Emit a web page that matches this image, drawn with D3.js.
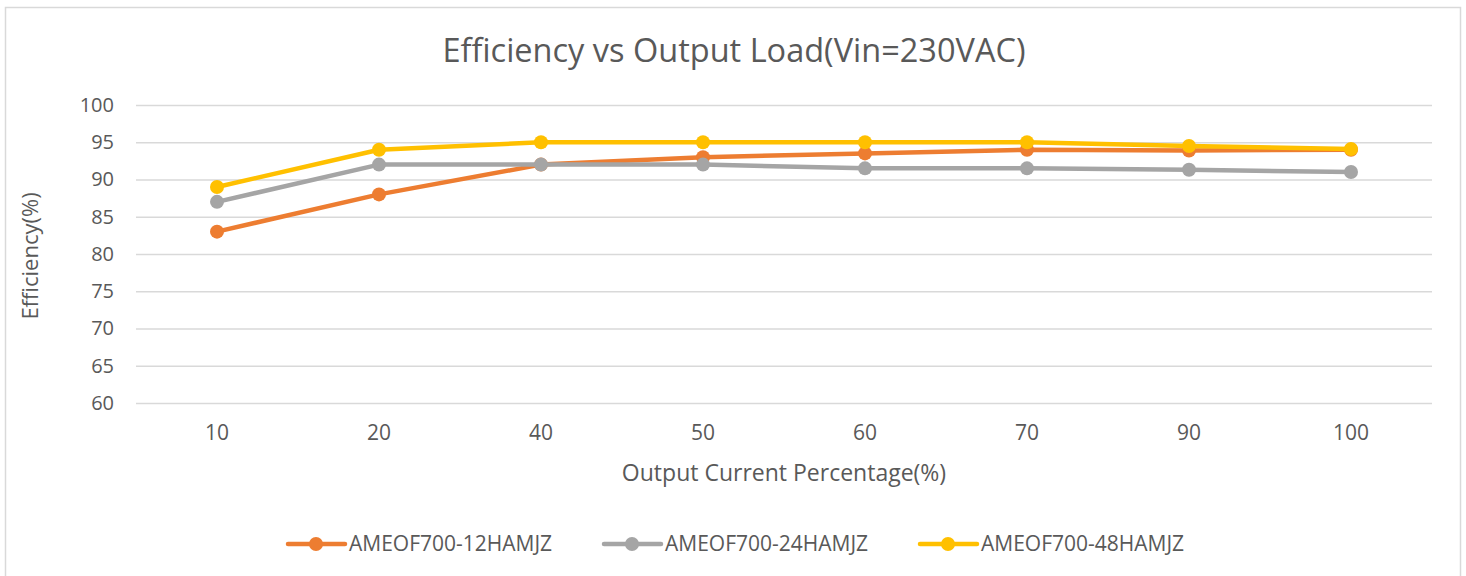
<!DOCTYPE html>
<html>
<head>
<meta charset="utf-8">
<script src="https://cdn.jsdelivr.net/npm/d3@7"></script>
<style>
  body { margin: 0; background: #fff; }
  text { font-family: "Open Sans", "DejaVu Sans", sans-serif; fill: #595959; }
</style>
</head>
<body>
<div id="chart"></div>
<script>
// data
var loads = ["10", "20", "40", "50", "60", "70", "90", "100"];
var seriesNames = ["AMEOF700-12HAMJZ", "AMEOF700-24HAMJZ", "AMEOF700-48HAMJZ"];
var eff12 = [83, 88, 92, 93, 93.5, 94, 93.9, 94];
var eff24 = [87, 92, 92, 92, 91.5, 91.5, 91.3, 91];
var eff48 = [89, 94, 95, 95, 95, 95, 94.5, 94.1];
var yTicks = [60, 65, 70, 75, 80, 85, 90, 95, 100];
var colors = ["#ed7d31", "#a5a5a5", "#ffc000"];

var W = 1466, H = 576;
var margin = {top: 105, right: 34, bottom: 173, left: 136};
var width = W - margin.left - margin.right,
    height = H - margin.top - margin.bottom;

var svg = d3.select("#chart").append("svg")
    .attr("width", W)
    .attr("height", H);

// chart border
svg.append("rect")
    .attr("x", 5.5).attr("y", 7.5)
    .attr("width", 1455).attr("height", 580)
    .attr("fill", "#fff")
    .attr("stroke", "#d9d9d9")
    .attr("stroke-width", 1.5);

var g = svg.append("g")
    .attr("transform", "translate(" + margin.left + "," + margin.top + ")");

// title
svg.append("text")
    .attr("x", 734)
    .attr("y", 62)
    .attr("text-anchor", "middle")
    .style("font-size", "32.5px")
    .text("Efficiency vs Output Load(Vin=230VAC)");

var x = d3.scaleBand()
    .domain(loads)
    .range([0, width]);

var y = d3.scaleLinear()
    .domain([60, 100])
    .range([height, 0]);

// gridlines
g.append("g")
    .call(d3.axisLeft(y).tickValues(yTicks).tickSize(-width).tickFormat(""))
    .call(function(a) { a.select(".domain").remove(); })
    .selectAll("line")
    .attr("stroke", "#d9d9d9")
    .attr("stroke-width", 1.5);

// y axis labels
g.append("g")
    .call(d3.axisLeft(y).tickValues(yTicks).tickSize(0).tickPadding(22))
    .call(function(a) { a.select(".domain").remove(); })
    .selectAll("text")
    .style("font-size", "20px");

// x axis labels
g.append("g")
    .attr("transform", "translate(0," + height + ")")
    .call(d3.axisBottom(x).tickSize(0).tickPadding(22))
    .call(function(a) { a.select(".domain").remove(); })
    .selectAll("text")
    .style("font-size", "21px");

// axis titles
svg.append("text")
    .attr("x", margin.left + width / 2)
    .attr("y", 481)
    .attr("text-anchor", "middle")
    .style("font-size", "23px")
    .text("Output Current Percentage(%)");

svg.append("text")
    .attr("transform", "translate(38," + (margin.top + height / 2 + 2) + ") rotate(-90)")
    .attr("text-anchor", "middle")
    .style("font-size", "22px")
    .text("Efficiency(%)");

var series = [eff12, eff24, eff48];

var line = d3.line()
    .x(function(d, i) { return x(loads[i]) + x.bandwidth() / 2; })
    .y(function(d) { return y(d); });

series.forEach(function(s, k) {
    g.append("path")
        .datum(s)
        .attr("fill", "none")
        .attr("stroke", colors[k])
        .attr("stroke-width", 4.5)
        .attr("stroke-linejoin", "round")
        .attr("d", line);
    g.selectAll(".dot" + k)
        .data(s)
        .enter()
        .append("circle")
        .attr("cx", function(d, i) { return x(loads[i]) + x.bandwidth() / 2; })
        .attr("cy", function(d) { return y(d); })
        .attr("r", 7)
        .attr("fill", colors[k]);
});

// legend
var legendX = [288, 604, 920];
var legend = svg.append("g");
seriesNames.forEach(function(name, k) {
    var lg = legend.append("g").attr("transform", "translate(" + legendX[k] + ",544)");
    lg.append("line")
        .attr("x1", 0).attr("x2", 57)
        .attr("stroke", colors[k])
        .attr("stroke-width", 4.5)
        .attr("stroke-linecap", "round");
    lg.append("circle")
        .attr("cx", 28).attr("r", 7)
        .attr("fill", colors[k]);
    lg.append("text")
        .attr("x", 61)
        .attr("dy", "0.35em")
        .style("font-size", "21px")
        .text(name);
});
</script>
</body>
</html>
